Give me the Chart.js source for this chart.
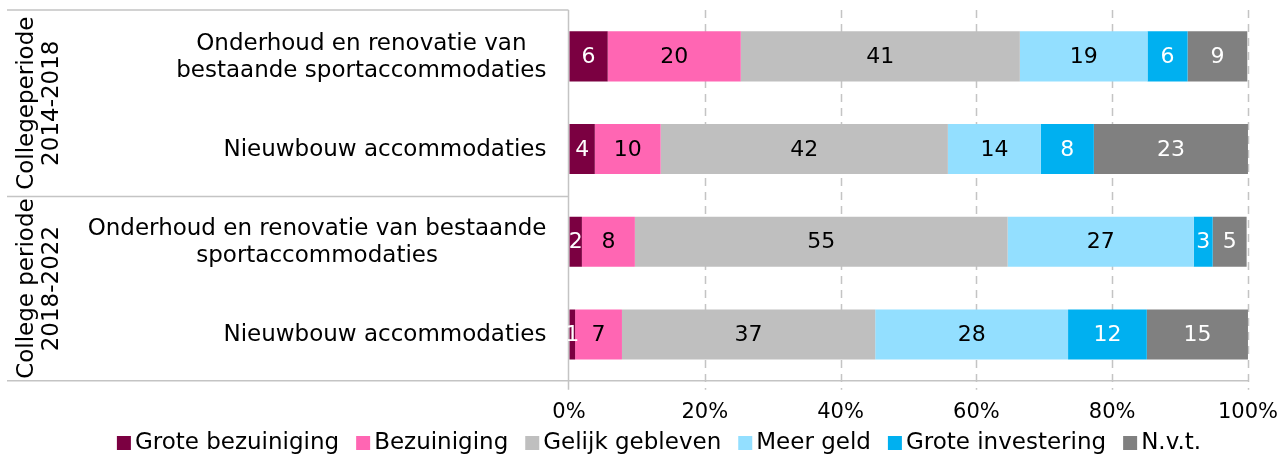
<!DOCTYPE html>
<html>
<head>
<meta charset="utf-8">
<script src="https://cdn.jsdelivr.net/npm/chart.js@4"></script>
<style>
  html, body { margin: 0; padding: 0; background: #fff; }
  #wrap { width: 1282px; height: 457px; }
</style>
</head>
<body>
<div id="wrap"><canvas id="myChart" width="1282" height="457"></canvas></div>
<script>
const categories = [
   ['Onderhoud en renovatie van', 'bestaande sportaccommodaties'],
   ['Nieuwbouw accommodaties'],
   ['Onderhoud en renovatie van bestaande', 'sportaccommodaties'],
   ['Nieuwbouw accommodaties']
];
const groups = [['Collegeperiode', '2014-2018'], ['College periode', '2018-2022']];
const groupRows = [[0, 1], [2, 3]];

const groteBezuiniging = [5.7, 3.8, 1.9, 0.9];
const bezuiniging = [19.6, 9.7, 7.8, 6.9];
const gelijkGebleven = [41.1, 42.3, 54.9, 37.3];
const meerGeld = [18.8, 13.7, 27.4, 28.4];
const groteInvestering = [5.9, 7.8, 2.8, 11.6];
const nvt = [8.8, 22.7, 5.0, 14.9];

const seriesNames = ['Grote bezuiniging', 'Bezuiniging', 'Gelijk gebleven', 'Meer geld', 'Grote investering', 'N.v.t.'];
const xTicks = [0, 20, 40, 60, 80, 100];

const colors = ['#7B0041', '#FF66B3', '#BFBFBF', '#93DFFF', '#00B0F0', '#808080'];
const labelColors = ['#fff', '#000', '#000', '#000', '#fff', '#fff'];
const FONT = '"DejaVu Sans", Verdana, sans-serif';
const lineColor = '#C4C4C4';

const allSeries = [groteBezuiniging, bezuiniging, gelijkGebleven, meerGeld, groteInvestering, nvt];

// grid, group box, category labels
const framePlugin = {
   id: 'frame',
   beforeDatasetsDraw(chart) {
      const {ctx, chartArea, scales} = chart;
      const x = scales.x, y = scales.y;
      ctx.save();
      ctx.strokeStyle = lineColor;
      ctx.lineWidth = 1.5;
      ctx.setLineDash([8, 6]);
      xTicks.slice(1).forEach(v => {
         const px = Math.round(x.getPixelForValue(v)) + 0.5;
         ctx.beginPath();
         ctx.moveTo(px, chartArea.top);
         ctx.lineTo(px, chartArea.bottom + 9);
         ctx.stroke();
      });
      ctx.setLineDash([]);
      const left = 7;
      const x0 = Math.round(x.getPixelForValue(0)) - 0.5;
      const mid = (y.getPixelForValue(1) + y.getPixelForValue(2)) / 2 + 1;
      ctx.beginPath();
      ctx.moveTo(left, chartArea.top); ctx.lineTo(x0, chartArea.top);
      ctx.moveTo(left, mid); ctx.lineTo(x0, mid);
      ctx.moveTo(left, chartArea.bottom); ctx.lineTo(x.getPixelForValue(100), chartArea.bottom);
      ctx.moveTo(x0, chartArea.top); ctx.lineTo(x0, chartArea.bottom + 9);
      ctx.stroke();

      // category labels, lines centred within a right-aligned block
      ctx.fillStyle = '#000';
      ctx.font = '23px ' + FONT;
      ctx.textBaseline = 'middle';
      ctx.textAlign = 'center';
      const lh = 27;
      categories.forEach((lines, i) => {
         const cy = y.getPixelForValue(i) + 1;
         const w = Math.max(...lines.map(l => ctx.measureText(l).width));
         const cx = x0 - 22 - w / 2;
         lines.forEach((l, j) => {
            ctx.fillText(l, cx, cy + (j - (lines.length - 1) / 2) * lh);
         });
      });

      // group labels, rotated
      groups.forEach((lines, g) => {
         const r = groupRows[g];
         const top = r[0] === 0 ? chartArea.top : mid;
         const bottom = r[0] === 0 ? mid : chartArea.bottom;
         ctx.save();
         ctx.translate(40, (top + bottom) / 2);
         ctx.rotate(-Math.PI / 2);
         lines.forEach((l, j) => {
            ctx.fillText(l, 0, (j - 0.5) * 25);
         });
         ctx.restore();
      });
      ctx.restore();
   },
   afterDatasetsDraw(chart) {
      const {ctx} = chart;
      ctx.save();
      ctx.font = '22px ' + FONT;
      ctx.textAlign = 'center';
      ctx.textBaseline = 'middle';
      chart.data.datasets.forEach((ds, di) => {
         chart.getDatasetMeta(di).data.forEach((bar, i) => {
            const c = bar.getCenterPoint();
            ctx.fillStyle = labelColors[di];
            ctx.fillText(String(Math.round(ds.data[i])), c.x, c.y + 1);
         });
      });

      // legend
      ctx.font = '23px ' + FONT;
      const gap = 4, box = 14, spacing = 17;
      const widths = seriesNames.map(n => box + gap + ctx.measureText(n).width);
      const total = widths.reduce((a, b) => a + b, 0) + spacing * (seriesNames.length - 1);
      let lx = chart.width / 2 + 18 - total / 2;
      const ly = 442;
      ctx.textAlign = 'left';
      seriesNames.forEach((n, i) => {
         ctx.fillStyle = colors[i];
         ctx.fillRect(lx, ly - box / 2 + 1, box, box);
         ctx.fillStyle = '#000';
         ctx.fillText(n, lx + box + gap, ly + 1);
         lx += widths[i] + spacing;
      });
      ctx.restore();
   }
};

const data = {
   labels: categories,
   datasets: allSeries.map((s, i) => ({
      label: seriesNames[i],
      data: s,
      backgroundColor: colors[i],
      borderWidth: 0,
      barPercentage: 0.54,
      categoryPercentage: 1
   }))
};

const config = {
   type: 'bar',
   data: data,
   options: {
      indexAxis: 'y',
      responsive: false,
      animation: false,
      layout: {
         padding: {left: 569, top: 10, right: 2, bottom: 28}
      },
      scales: {
         x: {
            stacked: true,
            min: 0,
            max: 100,
            afterBuildTicks: (axis) => { axis.ticks = xTicks.map(v => ({value: v})); },
            grid: {color: 'transparent', drawTicks: true, tickLength: 15},
            border: {display: false},
            ticks: {
               color: '#000',
               padding: 4,
               maxRotation: 0,
               font: {family: FONT, size: 21},
               callback: (v) => v + '%'
            }
         },
         y: {
            stacked: true,
            display: false
         }
      },
      plugins: {
         legend: {display: false},
         tooltip: {enabled: false}
      }
   },
   plugins: [framePlugin]
};

const myChart = new Chart(document.getElementById('myChart'), config);
</script>
</body>
</html>
